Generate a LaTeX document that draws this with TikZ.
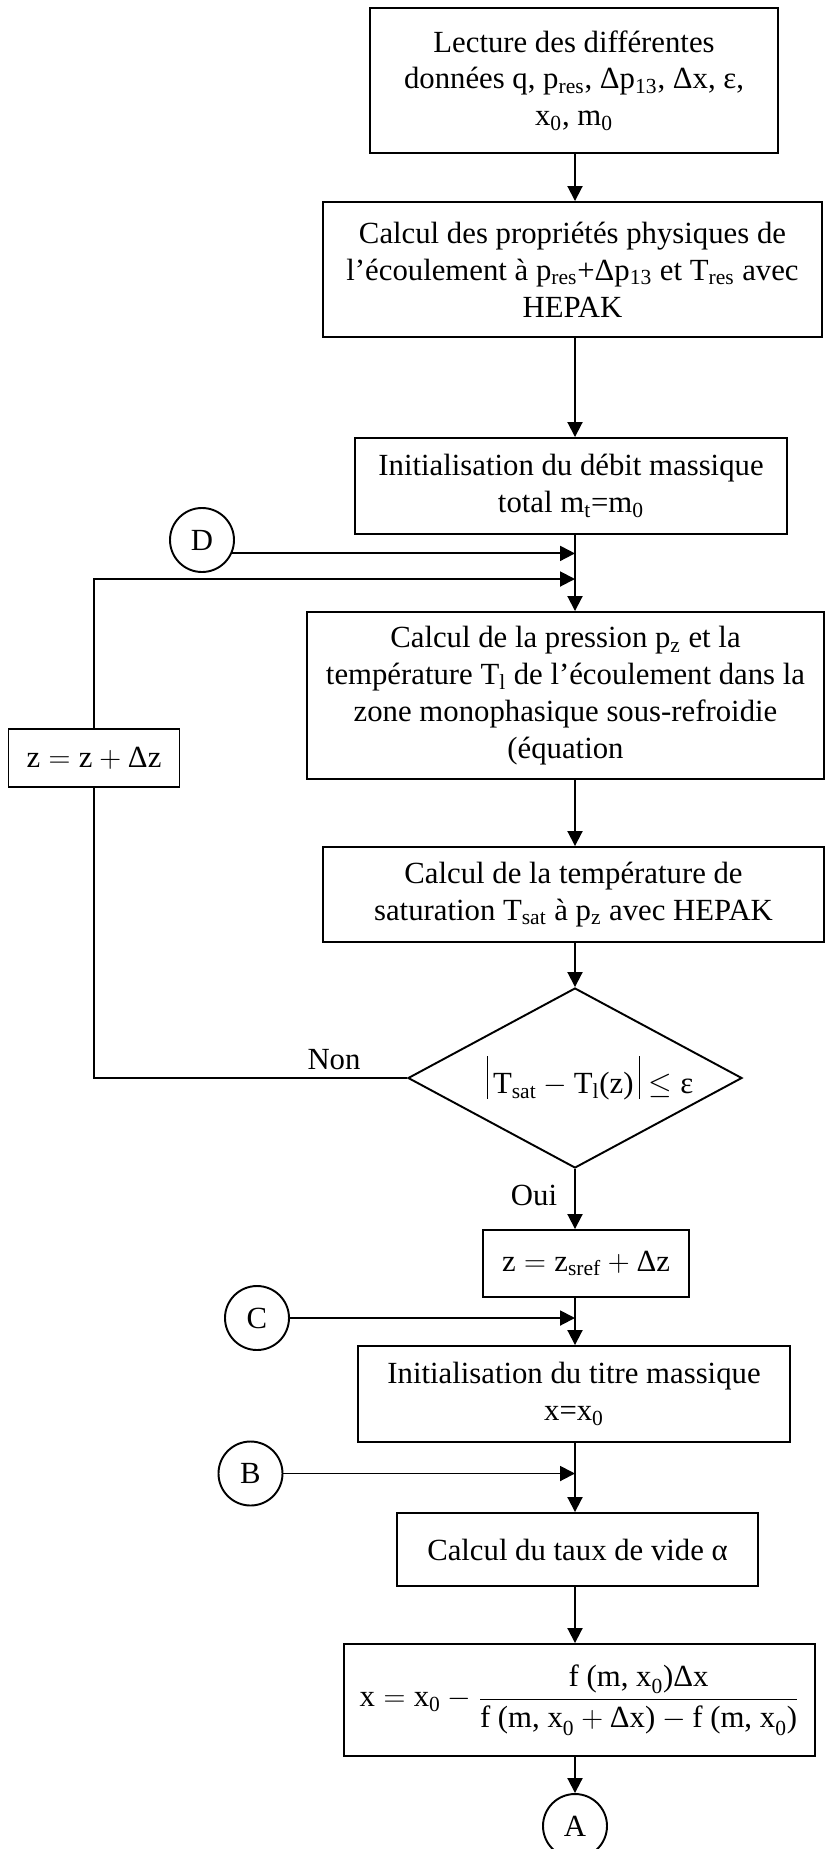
\documentclass[tikz,border=0pt]{standalone}
\usepackage{amsmath}
\usepackage{fontspec}
\setmainfont{Liberation Serif}
\usetikzlibrary{arrows.meta,shapes.geometric}
\newcommand{\absbar}{\rule[-3pt]{0.7pt}{24.5pt}}

\begin{document}
\begin{tikzpicture}[
  every node/.style={font=\fontsize{17.5}{21}\selectfont,align=center,inner sep=4pt},
  stage/.style={draw,line width=1.1pt},
  decision/.style={draw,diamond,line width=1.1pt,aspect=1.86,inner sep=-0.4cm,minimum width=6.68cm,minimum height=3.6cm},
  offpage/.style={draw,circle,line width=1.1pt,minimum size=1.28cm,inner sep=0pt},
  flow/.style={-{Triangle[length=3.0mm,width=3.0mm]},line width=1.1pt},
  back/.style={line width=1.1pt},
  tag/.style={inner sep=0pt}
]
  \useasboundingbox (0,0) rectangle (16.5,-36.98);
  \coordinate (spine) at (11.50,0);
  \node[stage,minimum width=8.16cm,minimum height=2.90cm] (b1) at (11.48,-1.61) {Lecture des différentes\\données q, p\textsubscript{res}, Δp\textsubscript{13}, Δx, ε,\\x\textsubscript{0}, m\textsubscript{0}};
  \node[stage,minimum width=9.98cm,minimum height=2.70cm] (b2) at (11.45,-5.39) {Calcul des propriétés physiques de\\l’écoulement à p\textsubscript{res}+Δp\textsubscript{13} et T\textsubscript{res} avec\\HEPAK};
  \node[stage,minimum width=8.64cm,minimum height=1.92cm] (b3) at (11.42,-9.72) {Initialisation du débit massique\\total m\textsubscript{t}=m\textsubscript{0}};
  \node[offpage] (D) at (4.04,-10.80) {D};
  \node[stage,minimum width=10.34cm,minimum height=3.34cm] (b4) at (11.31,-13.91) {Calcul de la pression p\textsubscript{z} et la\\température T\textsubscript{l} de l’écoulement dans la\\zone monophasique sous-refroidie\\(équation};
  \node[stage,minimum width=3.42cm,minimum height=1.16cm] (zb) at (1.88,-15.16) {$\text{z} = \text{z} + \text{Δz}$};
  \node[stage,minimum width=10.02cm,minimum height=1.90cm] (b5) at (11.47,-17.89) {Calcul de la température de\\saturation T\textsubscript{sat} à p\textsubscript{z} avec HEPAK};
  \node[decision] (cond) at (11.50,-21.56) {\hspace{0.6cm}$\absbar\,\text{T}_{\text{sat}} - \text{T}_{\text{l}}\text{(z)}\,\absbar \le \text{ε}$};
  \node[tag] (non) at (6.68,-21.20) {Non};
  \node[tag] (oui) at (10.68,-23.90) {Oui};
  \node[stage,minimum width=4.12cm,minimum height=1.34cm] (zs) at (11.72,-25.27) {$\text{z} = \text{z}_{\text{sref}} + \text{Δz}$};
  \node[offpage] (C) at (5.14,-26.36) {C};
  \node[stage,minimum width=8.64cm,minimum height=1.92cm] (tt) at (11.48,-27.88) {Initialisation du titre massique\\x=x\textsubscript{0}};
  \node[offpage] (B) at (5.01,-29.47) {B};
  \node[stage,minimum width=7.22cm,minimum height=1.46cm] (va) at (11.55,-30.99) {Calcul du taux de vide α};
  \node[stage,minimum width=9.42cm,minimum height=2.24cm] (nr) at (11.59,-34.00) {$\text{x} = \text{x}_{\text{0}} - \dfrac{\text{f (m, x}_{\text{0}}\text{)Δx}}{\text{f (m, x}_{\text{0}} + \text{Δx)} - \text{f (m, x}_{\text{0}}\text{)}}$};
  \node[offpage] (A) at (11.50,-36.52) {A};
  \coordinate (loopin) at (11.50,-11.58);
  \draw[flow] (b1.south -| spine) -- (b2.north -| spine);
  \draw[flow] (b2.south -| spine) -- (b3.north -| spine);
  \draw[flow] (b3.south -| spine) -- (b4.north -| spine);
  \draw[flow] (D.-24) -- (D.-24 -| spine);
  \draw[flow] (zb.north) |- (loopin);
  \draw[flow] (b4.south -| spine) -- (b5.north -| spine);
  \draw[flow] (b5.south -| spine) -- (cond.north);
  \draw[back] (cond.west) -| (zb.south);
  \draw[flow] (cond.south) -- (zs.north -| spine);
  \draw[flow] (zs.south -| spine) -- (tt.north -| spine);
  \draw[flow] (C.east) -- (C.east -| spine);
  \draw[flow] (tt.south -| spine) -- (va.north -| spine);
  \draw[flow] (B.east) -- (B.east -| spine);
  \draw[flow] (va.south -| spine) -- (nr.north -| spine);
  \draw[flow] (nr.south -| spine) -- (A.north);
\end{tikzpicture}
\end{document}
